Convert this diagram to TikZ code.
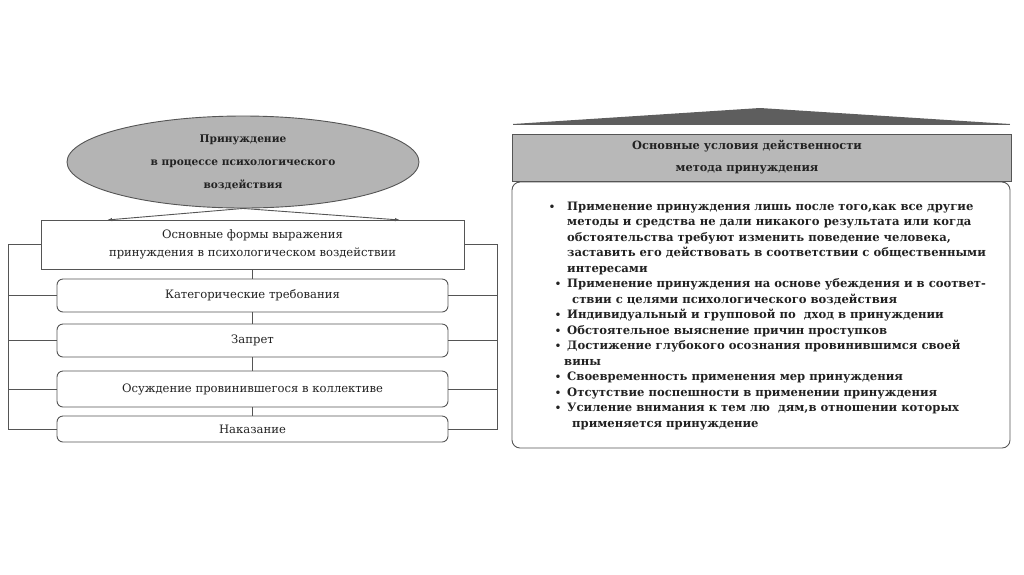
\documentclass[tikz,border=0pt]{standalone}
\usepackage{fontspec}
\setmainfont{DejaVu Serif}
\usetikzlibrary{shapes.geometric,arrows.meta}
\definecolor{ln}{HTML}{555555}
\definecolor{ellfill}{HTML}{B4B4B4}
\definecolor{hdrfill}{HTML}{B8B8B8}
\definecolor{trifill}{HTML}{5E5E5E}
\definecolor{txt}{HTML}{222222}
\begin{document}
\begin{tikzpicture}[x=1pt,y=-1pt,
  line/.style={draw=ln, line width=0.9pt},
  formbox/.style={draw=ln, line width=0.9pt, fill=white, minimum width=423pt, minimum height=49pt, inner sep=0pt, align=center, text=txt, font=\fontsize{11.6}{18}\selectfont},
  rbox/.style={draw=ln, line width=0.9pt, rounded corners=6pt, minimum width=391pt, inner sep=0pt, text=txt, font=\fontsize{11.6}{13}\selectfont},
  bl/.style={anchor=base west, inner sep=0pt, text=txt, font=\bfseries\fontsize{11.6}{13}\selectfont},
  dot/.style={anchor=base, inner sep=0pt, text=txt, font=\bfseries\fontsize{10}{13}\selectfont}]
\useasboundingbox (0,0) rectangle (1024,574);

% left part
\node[ellipse, draw=ln, line width=0.9pt, fill=ellfill, minimum width=352pt, minimum height=92pt, inner sep=0pt, align=center, text=txt, font=\bfseries\fontsize{10.6}{23}\selectfont] (ell) at (243,162) {Принуждение\\в процессе психологического\\воздействия};
\node[formbox] (form) at (252.5,244.5) {Основные формы выражения\\принуждения в психологическом воздействии};
\node[rbox, minimum height=33pt] (b1) at (252.5,295.5) {Категорические требования};
\node[rbox, minimum height=33pt] (b2) at (252.5,340.5) {Запрет};
\node[rbox, minimum height=36pt] (b3) at (252.5,389) {Осуждение провинившегося в коллективе};
\node[rbox, minimum height=26pt] (b4) at (252.5,429) {Наказание};

\coordinate (al) at (107,220);
\coordinate (ar) at (400,220);
\coordinate (lx) at (8,0);
\coordinate (rx) at (497,0);
\draw[line, -{Latex[length=5pt,width=3.5pt]}] (ell.south) -- (al);
\draw[line, -{Latex[length=5pt,width=3.5pt]}] (ell.south) -- (ar);
\draw[line] (form.south) -- (b1.north);
\draw[line] (b1.south) -- (b2.north);
\draw[line] (b2.south) -- (b3.north);
\draw[line] (b3.south) -- (b4.north);
\draw[line] (form.west) -- (form.west -| lx) -- (b4.west -| lx) -- (b4.west);
\draw[line] (b1.west -| lx) -- (b1.west);
\draw[line] (b2.west -| lx) -- (b2.west);
\draw[line] (b3.west -| lx) -- (b3.west);
\draw[line] (form.east) -- (form.east -| rx) -- (b4.east -| rx) -- (b4.east);
\draw[line] (b1.east -| rx) -- (b1.east);
\draw[line] (b2.east -| rx) -- (b2.east);
\draw[line] (b3.east -| rx) -- (b3.east);

% right part
\fill[trifill] (513,124) -- (760,108) -- (1010,124) -- cycle;
\draw[trifill, line width=1.6pt] (513,124.5) -- (1010,124.5);
\node[draw=ln, line width=0.9pt, fill=hdrfill, minimum width=499pt, minimum height=47pt, inner sep=0pt] (hdr) at (761.5,157.5) {};
\node[inner sep=0pt, align=center, text=txt, font=\bfseries\fontsize{11.4}{22}\selectfont] (hdrtext) at (747,157.5) {Основные условия действенности\\метода принуждения};
\node[draw=ln, line width=0.9pt, rounded corners=8pt, minimum width=498pt, minimum height=266pt, inner sep=0pt] (cond) at (761,315) {};

\node[dot] (d1) at (552,210) {•};
\node[bl] (l1) at (567,210) {Применение принуждения лишь после того,как все другие};
\node[bl] (l2) at (567,225.5) {методы и средства не дали никакого результата или когда};
\node[bl] (l3) at (567,241) {обстоятельства требуют изменить поведение человека,};
\node[bl] (l4) at (567,256.5) {заставить его действовать в соответствии с общественными};
\node[bl] (l5) at (567,272) {интересами};
\node[dot] (d2) at (558,287.5) {•};
\node[bl] (l6) at (567,287.5) {Применение принуждения на основе убеждения и в соответ-};
\node[bl] (l7) at (572,303) {ствии с целями психологического воздействия};
\node[dot] (d3) at (558,318.5) {•};
\node[bl] (l8) at (567,318.5) {Индивидуальный и групповой по~~дход в принуждении};
\node[dot] (d4) at (558,334) {•};
\node[bl] (l9) at (567,334) {Обстоятельное выяснение причин проступков};
\node[dot] (d5) at (558,349.5) {•};
\node[bl] (l10) at (567,349.5) {Достижение глубокого осознания провинившимся своей};
\node[bl] (l11) at (564,365) {вины};
\node[dot] (d6) at (558,380.5) {•};
\node[bl] (l12) at (567,380.5) {Своевременность применения мер принуждения};
\node[dot] (d7) at (558,396) {•};
\node[bl] (l13) at (567,396) {Отсутствие поспешности в применении принуждения};
\node[dot] (d8) at (558,411.5) {•};
\node[bl] (l14) at (567,411.5) {Усиление внимания к тем лю~~дям,в отношении которых};
\node[bl] (l15) at (572,427) {применяется принуждение};
\end{tikzpicture}
\end{document}
